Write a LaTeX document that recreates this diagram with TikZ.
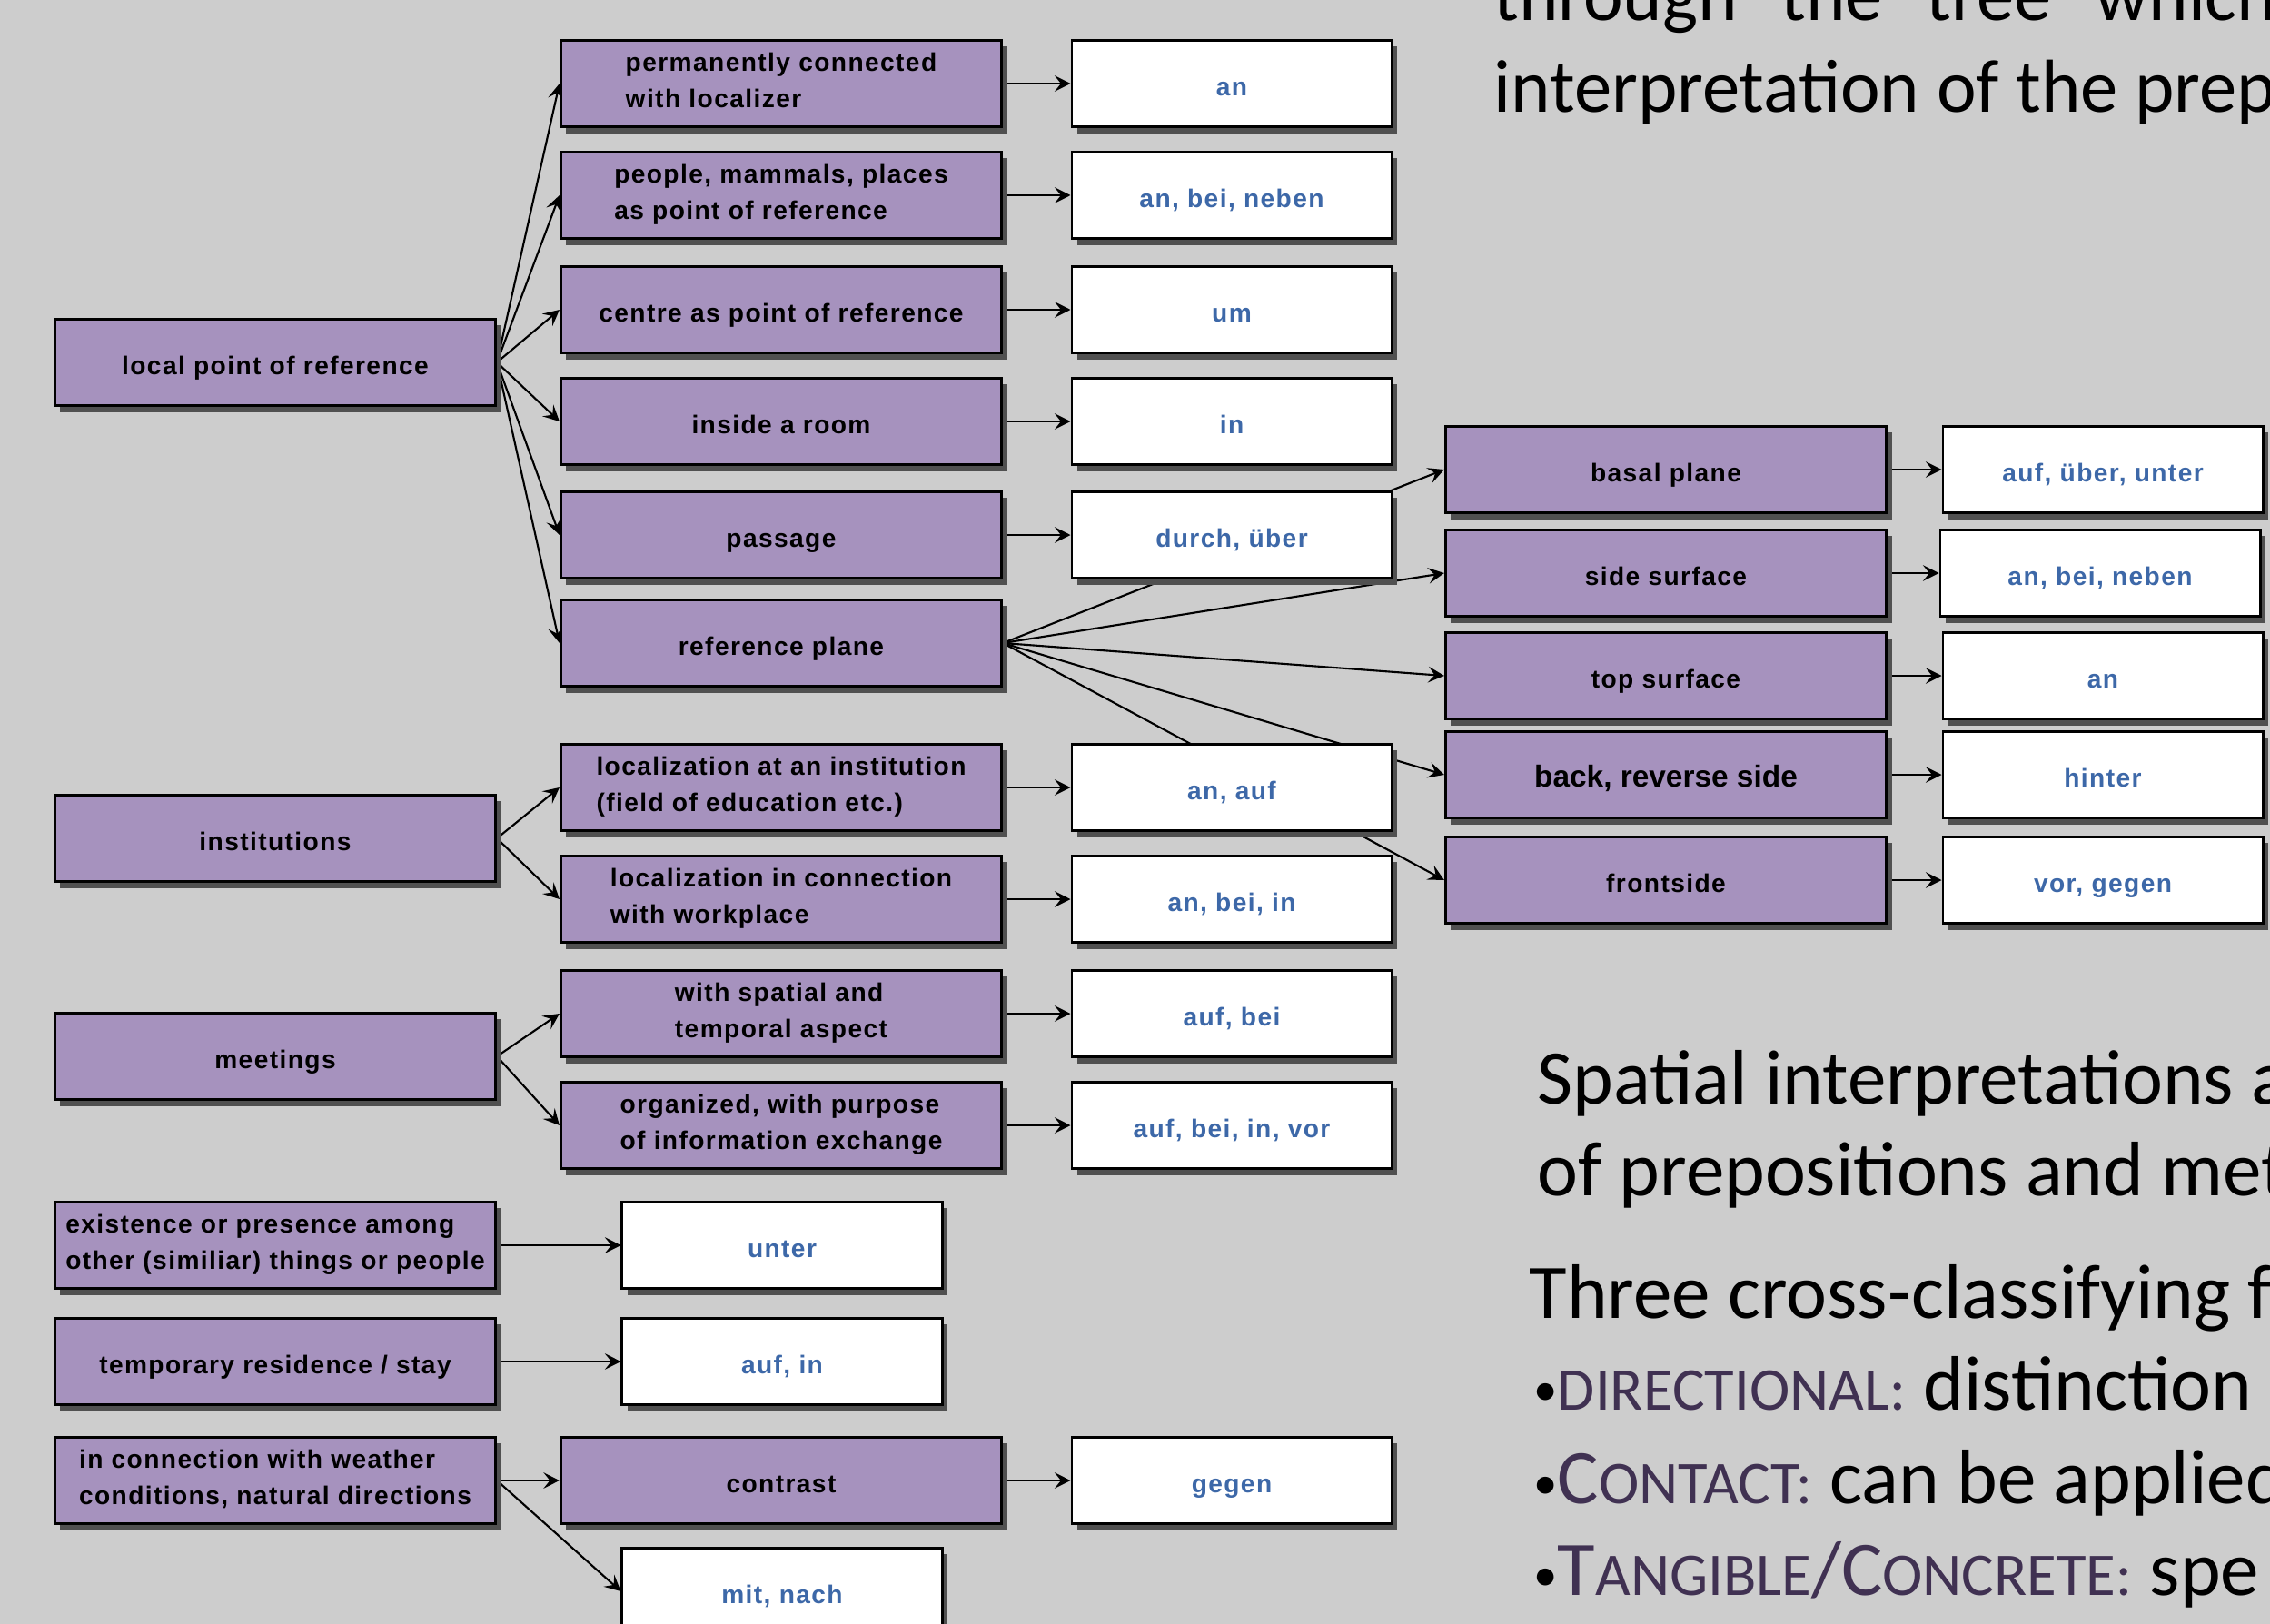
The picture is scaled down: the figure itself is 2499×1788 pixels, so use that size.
\documentclass[tikz,border=0pt]{standalone}
\usepackage{fontspec}
\usetikzlibrary{shadows,arrows.meta}
\setmainfont{Liberation Sans}
\newfontfamily\boxfont[LetterSpace=5]{Liberation Sans}
\newfontfamily\slidefont{Carlito}
\definecolor{slidegray}{HTML}{CDCDCD}
\definecolor{boxpurple}{HTML}{A692BE}
\definecolor{prepblue}{HTML}{3D68A8}
\definecolor{shadowgray}{HTML}{505050}
\definecolor{scpurple}{HTML}{403152}
\newcommand\fsc[1]{{\fontsize{19}{20}\selectfont #1}}
\newcommand\blt{{\fontsize{15}{16}\selectfont\raisebox{1.2pt}{•}}}
\pgfdeclarelayer{bg}
\pgfdeclarelayer{edges}
\pgfsetlayers{bg,edges,main}
\tikzset{
  box/.style={draw=black, line width=0.8pt, minimum height=0.95cm, inner xsep=1pt,
    font=\boxfont\bfseries\fontsize{8}{11.3}\selectfont, align=left,
    execute at begin node={\rule{0pt}{10pt}}, execute at end node={\rule[-2.2pt]{0pt}{0pt}},
    drop shadow={shadow xshift=0.06cm, shadow yshift=-0.07cm, fill=shadowgray, opacity=1}},
  sense/.style={box, fill=boxpurple, minimum width=4.85cm},
  prep/.style={box, fill=white, text=prepblue, minimum width=3.52cm},
  link/.style={line width=0.6pt, -{Stealth[length=5pt,width=5pt,inset=2pt]}},
  slide/.style={anchor=base west, inner sep=0pt, font=\slidefont\fontsize{23.5}{28}\selectfont},
  bigslide/.style={slide, font=\slidefont\fontsize{24.2}{28}\selectfont},
}
\begin{document}
\begin{tikzpicture}[x=0.01cm, y=-0.01cm]
\useasboundingbox (0,0) rectangle (2499,1788);
\begin{pgfonlayer}{bg}
\fill[slidegray] (0,0) rectangle (2499,1788);
\end{pgfonlayer}
\clip (0,0) rectangle (2499,1788);

% left column
\node[sense] (local) at (303,399) {local point of reference};
\node[sense] (inst) at (303,923) {institutions};
\node[sense] (meet) at (303,1163) {meetings};
\node[sense] (exist) at (303,1371) {existence or presence among\\other (similiar) things or people};
\node[sense] (temp) at (303,1499) {temporary residence / stay};
\node[sense] (weather) at (303,1630) {in connection with weather\\conditions, natural directions};

% middle column
\node[sense] (perm) at (860,92) {permanently connected\\with localizer};
\node[sense] (people) at (860,215) {people, mammals, places\\as point of reference};
\node[sense] (centre) at (860,341) {centre as point of reference};
\node[sense] (room) at (860,464) {inside a room};
\node[sense] (passage) at (860,589) {passage};
\node[sense] (refplane) at (860,708) {reference plane};
\node[sense] (instloc) at (860,867) {localization at an institution\\(field of education etc.)};
\node[sense] (work) at (860,990) {localization in connection\\with workplace};
\node[sense] (spatial) at (860,1116) {with spatial and\\temporal aspect};
\node[sense] (organized) at (860,1239) {organized, with purpose\\of information exchange};
\node[sense] (contrast) at (860,1630) {contrast};

\node[prep] (unter) at (861,1371) {unter};
\node[prep] (aufin) at (861,1499) {auf, in};
\node[prep] (mitnach) at (861,1752) {mit, nach};

% prepositions
\node[prep] (an) at (1356,92) {an};
\node[prep] (anbeineben) at (1356,215) {an, bei, neben};
\node[prep] (um) at (1356,341) {um};
\node[prep] (in) at (1356,464) {in};
\node[prep] (durch) at (1356,589) {durch, über};
\node[prep] (anauf) at (1356,867) {an, auf};
\node[prep] (anbeiin) at (1356,990) {an, bei, in};
\node[prep] (aufbei) at (1356,1116) {auf, bei};
\node[prep] (aufbeiinvor) at (1356,1239) {auf, bei, in, vor};
\node[prep] (gegen) at (1356,1630) {gegen};

% reference plane
\node[sense] (basal) at (1834,517) {basal plane};
\node[sense] (side) at (1834,631) {side surface};
\node[sense] (top) at (1834,744) {top surface};
\node[sense, font=\bfseries\fontsize{9.5}{11}\selectfont] (back) at (1834,853) {back, reverse side};
\node[sense] (front) at (1834,969) {frontside};

\node[prep] (aufueberunter) at (2315,517) {auf, über, unter};
\node[prep] (anbeineben2) at (2312,631) {an, bei, neben};
\node[prep] (an2) at (2315,744) {an};
\node[prep] (hinter) at (2315,853) {hinter};
\node[prep] (vorgegen) at (2315,969) {vor, gegen};

\begin{pgfonlayer}{edges}
\foreach \n in {perm,people,centre,room,passage,refplane}
  \draw[link] (local.east) -- (\n.west);
\foreach \n in {instloc,work}
  \draw[link] (inst.east) -- (\n.west);
\foreach \n in {spatial,organized}
  \draw[link] (meet.east) -- (\n.west);
\foreach \n in {basal,side,top,back,front}
  \draw[link] (refplane.east) -- (\n.west);
\foreach \a/\b in {perm/an,people/anbeineben,centre/um,room/in,passage/durch,
    instloc/anauf,work/anbeiin,spatial/aufbei,organized/aufbeiinvor,contrast/gegen,
    exist/unter,temp/aufin,weather/contrast,weather/mitnach,
    basal/aufueberunter,side/anbeineben2,top/an2,back/hinter,front/vorgegen}
  \draw[link] (\a.east) -- (\b.west);
\end{pgfonlayer}

% slide text
\node[slide] (thr) at (1644,23) {\spaceskip=0.48cm through the tree which};
\node[slide] (interp) at (1644,124) {interpretation of the prep};
\node[bigslide] (spat) at (1692,1215) {Spatial interpretations a};
\node[bigslide] (ofprep) at (1692,1316) {of prepositions and met};
\node[bigslide] (three) at (1683,1451) {Three cross-classifying f};
\node[bigslide] (dir) at (1688,1552) {\blt\textcolor{scpurple}{\fsc{DIRECTIONAL:}} distinction};
\node[bigslide] (cont) at (1688,1655) {\blt\textcolor{scpurple}{C\fsc{ONTACT:}} can be applied};
\node[bigslide] (tang) at (1688,1756) {\blt\textcolor{scpurple}{T\fsc{ANGIBLE}/C\fsc{ONCRETE:}} spe};
\end{tikzpicture}
\end{document}
